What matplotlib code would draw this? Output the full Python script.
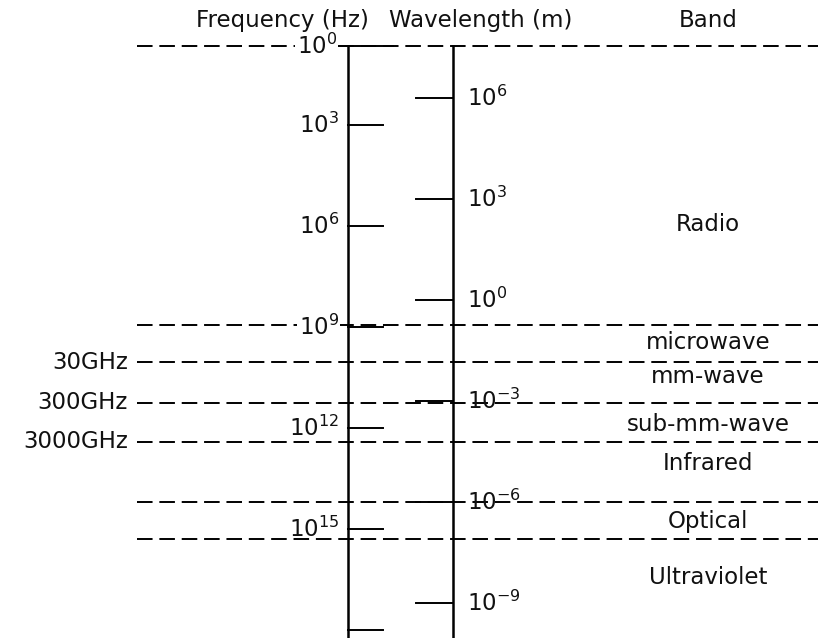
import matplotlib.pyplot as plt

# vertical scale of the drawing is log10(frequency) (exponent), top = low freq
freq_exp = [3, 6, 9, 12, 15, 18]
freq_labels = ['$10^{3}$', '$10^{6}$', '$10^{9}$', '$10^{12}$', '$10^{15}$', '']

wl_exp = [6, 3, 0, -3, -6, -9]
wl_labels = ['$10^{6}$', '$10^{3}$', '$10^{0}$', '$10^{-3}$', '$10^{-6}$', '$10^{-9}$']

# band edges as drawn (in frequency-exponent units)
edge_pos = [0.645, 8.93, 10.04, 11.24, 12.40, 14.20, 15.30]
edge_labels = ['', '', '30GHz', '300GHz', '3000GHz', '', '']

bands = ['Radio', 'microwave', 'mm-wave', 'sub-mm-wave', 'Infrared', 'Optical', 'Ultraviolet']
band_pos = [5.96, 9.44, 10.47, 11.90, 13.06, 14.78, 16.44]

col = '#111111'
fs = 16.5

fig = plt.figure(figsize=(8.18, 6.38), dpi=100)
ax = fig.add_axes([0, 0, 1, 1])
ax.set_xlim(0, 818)
ax.set_ylim(18.23, -0.72)
ax.axis('off')

x_f = 348
x_w = 453
top = edge_pos[0]
white = dict(facecolor='white', edgecolor='none', pad=1)

# band boundaries
for y, lab in zip(edge_pos, edge_labels):
    ax.plot([137, 818], [y, y], color='black', lw=1.4, ls=(0, (8, 3.5)), zorder=1)
    if lab:
        ax.text(128, y, lab, ha='right', va='center', fontsize=fs, color=col)

# the two scales
ax.plot([x_f, x_f], [top, 18.3], color='black', lw=1.8, zorder=3)
ax.plot([x_w, x_w], [top, 18.3], color='black', lw=1.8, zorder=3)
ax.plot([337, 393], [top, top], color='black', lw=1.4, zorder=3)
ax.text(337, top, '$10^{0}$', ha='right', va='center', fontsize=fs, color=col,
        bbox=white, zorder=4)

for e, lab in zip(freq_exp, freq_labels):
    ax.plot([x_f, x_f + 35], [e, e], color='black', lw=1.4, zorder=3)
    if lab:
        ax.text(339, e, lab, ha='right', va='center', fontsize=fs, color=col,
                bbox=white if e == 9 else None, zorder=4)

# wavelength drawn against frequency axis (offset as in the drawing)
for e, lab in zip(wl_exp, wl_labels):
    y = 8.2 - e
    ax.plot([x_w - 37, x_w], [y, y], color='black', lw=1.4, zorder=3)
    ax.text(467, y, lab, ha='left', va='center', fontsize=fs, color=col, zorder=4)

for b, y in zip(bands, band_pos):
    ax.text(708, y, b, ha='center', va='center', fontsize=fs, color=col)

# headers
ax.text(282, -0.1, 'Frequency (Hz)', ha='center', va='center', fontsize=fs, color=col)
ax.text(481, -0.1, 'Wavelength (m)', ha='center', va='center', fontsize=fs, color=col)
ax.text(708, -0.1, 'Band', ha='center', va='center', fontsize=fs, color=col)

plt.savefig('out.png', dpi=100)
